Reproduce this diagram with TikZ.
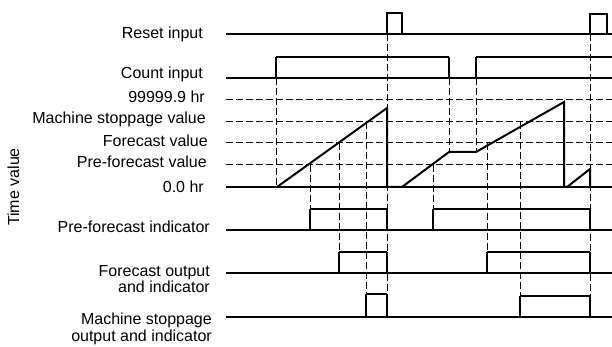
\documentclass[tikz,border=0pt]{standalone}
\usepackage{fontspec}
\setmainfont{Liberation Sans}
\begin{document}
\begin{tikzpicture}[x=1pt,y=-1pt,
  lbl/.style={font=\fontsize{16}{17}\selectfont, inner sep=0pt, anchor=base east},
  baseln/.style={line width=1.2pt},
  sig/.style={line width=2pt},
  gridln/.style={line width=1pt, dash pattern=on 7pt off 3pt},
]
\useasboundingbox (0,0) rectangle (612,347);

% labels
\node[lbl] (rst) at (203,39) {Reset input};
\node[lbl] (cnt) at (203,79) {Count input};
\node[lbl] (max) at (205,103) {99999.9 hr};
\node[lbl] (msv) at (206,124) {Machine stoppage value};
\node[lbl] (fcv) at (208,147) {Forecast value};
\node[lbl] (pfv) at (207,168) {Pre-forecast value};
\node[lbl] (zero) at (204,193) {0.0 hr};
\node[lbl] (pfi) at (210,232) {Pre-forecast indicator};
\node[lbl] (fo1) at (210,276) {Forecast output};
\node[lbl] (fo2) at (210,292) {and indicator};
\node[lbl] (ms1) at (212,324) {Machine stoppage};
\node[lbl] (ms2) at (212,341) {output and indicator};
\node[font=\fontsize{16}{17}\selectfont, inner sep=0pt, rotate=90, anchor=base] (tv) at (19,187) {Time value};

% dashed horizontal levels
\foreach \yy in {100,122,143,165} \draw[gridln] (226,\yy) -- (612,\yy);

% dashed verticals
\draw[gridln] (276,78) -- (276,187);
\draw[gridln] (387,34) -- (387,317);
\draw[gridln] (310,165) -- (310,209);
\draw[gridln] (339,143) -- (339,252);
\draw[gridln] (366,122) -- (366,294);
\draw[gridln] (449,78) -- (449,152);
\draw[gridln] (476,78) -- (476,152);
\draw[gridln] (433,165) -- (433,209);
\draw[gridln] (487,143) -- (487,252);
\draw[gridln] (520,122) -- (520,296);
\draw[gridln] (590,34) -- (590,317);

% baselines
\foreach \yy in {34,78,187,230,273,317} \draw[baseln] (226,\yy) -- (612,\yy);

% reset pulses
\draw[baseln] (387,34) -- (387,13) -- (402,13) -- (402,34);
\draw[baseln] (590,34) -- (590,14) -- (607,14) -- (607,34);

% count input
\draw[baseln] (276,78) -- (276,57);
\draw[baseln] (449,57) -- (449,78);
\draw[baseln] (476,78) -- (476,57);
\draw[sig] (276,57) -- (449,57);
\draw[sig] (476,57) -- (612,57);

% time value ramp
\draw[sig, line join=miter] (277,187) -- (387,108) -- (387,187) -- (402,187) -- (449,152) -- (476,152) -- (564,102) -- (564,187) -- (567,187) -- (590,169) -- (590,187);

% pre-forecast indicator
\draw[baseln] (310,230) -- (310,209); \draw[baseln] (387,209) -- (387,230);
\draw[sig] (310,209) -- (387,209);
\draw[baseln] (433,230) -- (433,209); \draw[baseln] (590,209) -- (590,230);
\draw[sig] (433,209) -- (590,209);

% forecast output
\draw[baseln] (339,273) -- (339,252); \draw[baseln] (387,252) -- (387,273);
\draw[sig] (339,252) -- (387,252);
\draw[baseln] (487,273) -- (487,252); \draw[baseln] (590,252) -- (590,273);
\draw[sig] (487,252) -- (590,252);

% machine stoppage output
\draw[baseln] (366,317) -- (366,294); \draw[baseln] (387,294) -- (387,317);
\draw[sig] (366,294) -- (387,294);
\draw[baseln] (520,317) -- (520,296); \draw[baseln] (590,296) -- (590,317);
\draw[sig] (520,296) -- (590,296);
\end{tikzpicture}
\end{document}
